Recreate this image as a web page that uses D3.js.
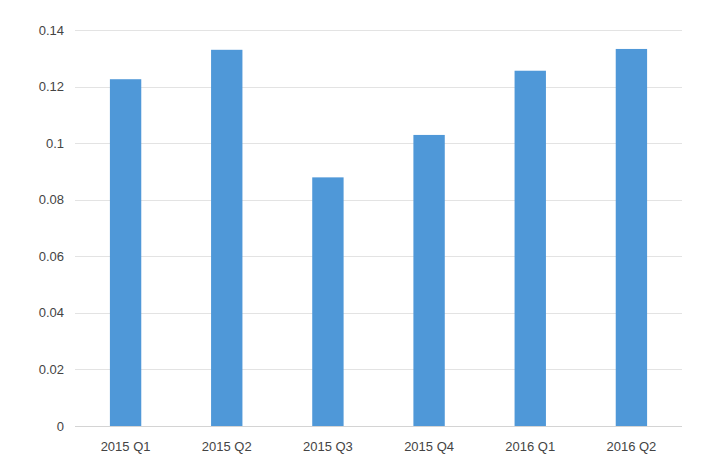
<!DOCTYPE html>
<html><head><meta charset="utf-8">
<script src="https://cdn.jsdelivr.net/npm/d3@7"></script>
<style>body{margin:0;background:#fff}svg{display:block;font-family:"Liberation Sans",Arial,sans-serif}</style>
</head><body><svg id="c" width="720" height="468"></svg>
<script>
const categories = ["2015 Q1","2015 Q2","2015 Q3","2015 Q4","2016 Q1","2016 Q2"];
const values = [0.1226, 0.1330, 0.0879, 0.1029, 0.1256, 0.1333];
const yTicks = [0, 0.02, 0.04, 0.06, 0.08, 0.1, 0.12, 0.14];

const svg = d3.select("#c");
const m = {left:75, right:38, top:30, bottom:42};
const W = 720, H = 468;
const x = d3.scaleBand().domain(categories).range([m.left, W - m.right]).paddingInner(0.69).paddingOuter(0.345);
const y = d3.scaleLinear().domain([0, 0.14]).range([H - m.bottom, m.top]);

svg.append("g").selectAll("line").data(yTicks).join("line")
  .attr("x1", m.left).attr("x2", W - m.right)
  .attr("y1", d => Math.round(y(d)) + 0.5).attr("y2", d => Math.round(y(d)) + 0.5)
  .attr("stroke", d => d === 0 ? "#d4d4d4" : "#e3e3e3").attr("stroke-width", 1);

svg.append("g").selectAll("text").data(yTicks).join("text")
  .attr("x", 64).attr("y", d => y(d)).attr("dy", "0.35em")
  .attr("text-anchor", "end").attr("fill", "#444").attr("font-size", 13)
  .text(d => d3.format("~g")(d));

svg.append("g").selectAll("rect").data(values).join("rect")
  .attr("x", (d, i) => x(categories[i])).attr("width", x.bandwidth())
  .attr("y", d => y(d)).attr("height", d => y(0) - y(d))
  .attr("fill", "#4f98d8");

svg.append("g").selectAll("text").data(categories).join("text")
  .attr("x", d => x(d) + x.bandwidth() / 2).attr("y", y(0) + 20).attr("dy", "0.35em")
  .attr("text-anchor", "middle").attr("fill", "#444").attr("font-size", 13)
  .text(d => d);
</script></body></html>
